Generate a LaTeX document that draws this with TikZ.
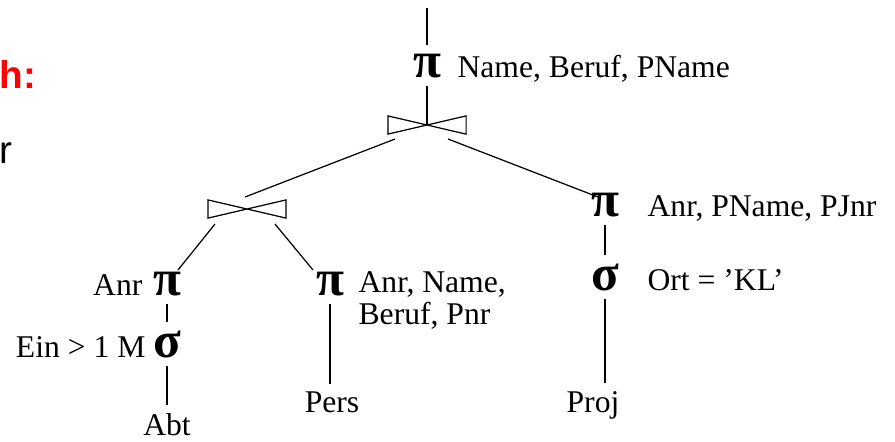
\documentclass[tikz,border=0pt]{standalone}
\usepackage{fontspec}
\setmainfont{Liberation Serif}
\setsansfont{Liberation Sans}
\usetikzlibrary{positioning}

\begin{document}
\begin{tikzpicture}[x=0.02cm, y=-0.02cm, line width=0.7pt,
		op/.style={inner sep=4.5pt, font=\bfseries\fontsize{29}{29}\selectfont},
		attr/.style={inner sep=0pt, font=\fontsize{18}{18}\selectfont, align=left},
		rel/.style={inner sep=4pt, font=\fontsize{18}{18}\selectfont},
		joinbox/.style={minimum width=1.54cm, minimum height=0.34cm, inner sep=0pt},
		vline/.style={line width=1pt}]
	\useasboundingbox (0,0) rectangle (895,441);

	% cut-off slide text on the left
	\node[anchor=base west, inner sep=0pt, text=red, font=\sffamily\bfseries\fontsize{22}{22}\selectfont] (head) at (-1,88) {h:};
	\node[anchor=base west, inner sep=0pt, font=\sffamily\fontsize{22}{22}\selectfont] (rest) at (-1,163) {r};

	% root projection and top join
	\coordinate (top) at (427,8);
	\node[op, anchor=base] (pi1) at (427,77) {π};
	\node[attr, anchor=base west] (pi1l) at (457,77) {Name, Beruf, PName};
	\node[joinbox] (join1) at (427,125) {};
	\draw (join1.north west) -- (join1.south east) -- (join1.north east) -- (join1.south west) -- cycle;

	% left join
	\node[joinbox] (join2) at (247,209) {};
	\draw (join2.north west) -- (join2.south east) -- (join2.north east) -- (join2.south west) -- cycle;

	% Abt branch
	\node[op, anchor=base] (pi2) at (167,295) {π};
	\node[attr, anchor=base east] (pi2l) at (143,295) {Anr};
	\node[op, anchor=base] (sig2) at (167,357) {σ};
	\node[attr, anchor=base east] (sig2l) at (146,357) {Ein > 1 M};
	\node[rel, anchor=base] (abt) at (167,435) {Abt};

	% Pers branch
	\node[op, anchor=base] (pi3) at (330,295) {π};
	\node[attr, anchor=base west] (pi3l) at (358,324) {Anr, Name,\\Beruf, Pnr};
	\node[rel, anchor=base] (pers) at (332,412) {Pers};

	% Proj branch
	\node[op, anchor=base] (pi4) at (605,216) {π};
	\node[attr, anchor=base west] (pi4l) at (647,216) {Anr, PName, PJnr};
	\node[op, anchor=base] (sig4) at (605,290) {σ};
	\node[attr, anchor=base west] (sig4l) at (647,290) {Ort = ’KL’};
	\node[rel, anchor=base] (proj) at (593,412) {Proj};

	% connectors
	\draw[vline] (top) -- (pi1);
	\draw[vline] (pi1) -- (join1.center);
	\draw ([shift={(-32,14)}]join1.center) -- ([shift={(-2,-12)}]join2.center);
	\draw ([shift={(21,14)}]join1.center) -- ([shift={(-7,-19)}]pi4.base);
	\draw ([shift={(-32,15)}]join2.center) -- ([shift={(11,-25)}]pi2.base);
	\draw ([shift={(28,15)}]join2.center) -- ([shift={(-17,-25)}]pi3.base);
	\draw[vline] (pi2) -- (sig2);
	\draw[vline] (sig2) -- (abt);
	\draw[vline] (pi3) -- (pers.north -| pi3);
	\draw[vline] (pi4) -- (sig4);
	\draw[vline] (sig4) -- (proj.north -| sig4);
\end{tikzpicture}
\end{document}
